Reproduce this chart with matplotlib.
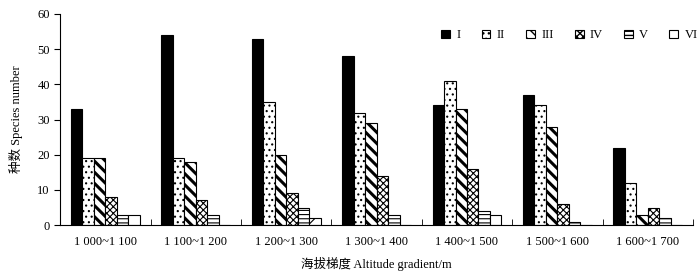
import numpy as np
import matplotlib.pyplot as plt

plt.rcParams['font.family'] = ['Liberation Serif', 'Noto Sans CJK SC']

# 海拔梯度
groups = ['1 000~1 100', '1 100~1 200', '1 200~1 300', '1 300~1 400',
          '1 400~1 500', '1 500~1 600', '1 600~1 700']
series = ['I', 'II', 'III', 'IV', 'V', 'VI']

s1 = [33, 54, 53, 48, 34, 37, 22]
s2 = [19, 19, 35, 32, 41, 34, 12]
s3 = [19, 18, 20, 29, 33, 28, 3]
s4 = [8, 7, 9, 14, 16, 6, 5]
s5 = [3, 3, 5, 3, 4, 1, 2]
s6 = [3, 0, 2, 0, 3, 0, 0]
values = [s1, s2, s3, s4, s5, s6]

# 模様
fills = ['black', 'white', 'white', 'white', 'white', 'white']
hatches = [None, '...', '\\\\\\', 'xxxxx', '----', '/']
hatch_lw = [0.8, 0.8, 2.2, 0.8, 0.8, 0.8]

fig = plt.figure(figsize=(7, 2.8), dpi=100)
ax = fig.add_axes([0.086, 0.196, 0.904, 0.754])

x = np.arange(len(groups))
w = 0.127
for i in range(len(series)):
    pos = x - 2.5 * w + i * w
    with plt.rc_context({'hatch.linewidth': hatch_lw[i]}):
        ax.bar(pos, values[i], width=w, color=fills[i], edgecolor='black',
               linewidth=0.8, hatch=hatches[i], label=series[i])

ax.set_xlim(-0.5, len(groups) - 0.5)
ax.set_ylim(0, 60)
ax.set_yticks(range(0, 61, 10))
ax.set_xticks(x)
ax.set_xticklabels(groups)
ax.set_xticks(np.arange(-0.5, len(groups), 1.0), minor=True)
ax.tick_params(axis='x', which='major', length=0, labelsize=9, pad=8)
ax.tick_params(axis='x', which='minor', direction='in', length=4)
ax.tick_params(axis='y', direction='out', length=4, labelsize=9)
ax.spines['top'].set_visible(False)
ax.spines['right'].set_visible(False)

ax.set_xlabel('海拔梯度 Altitude gradient/m', fontsize=9, labelpad=6)
ax.set_ylabel('种数 Species number', fontsize=9, labelpad=10)

ax.legend(ncol=6, loc='upper right', bbox_to_anchor=(1.025, 0.98), frameon=False,
          fontsize=9, handlelength=0.7, handleheight=0.7, columnspacing=1.7,
          handletextpad=0.5)

fig.savefig('out.png', dpi=100)
